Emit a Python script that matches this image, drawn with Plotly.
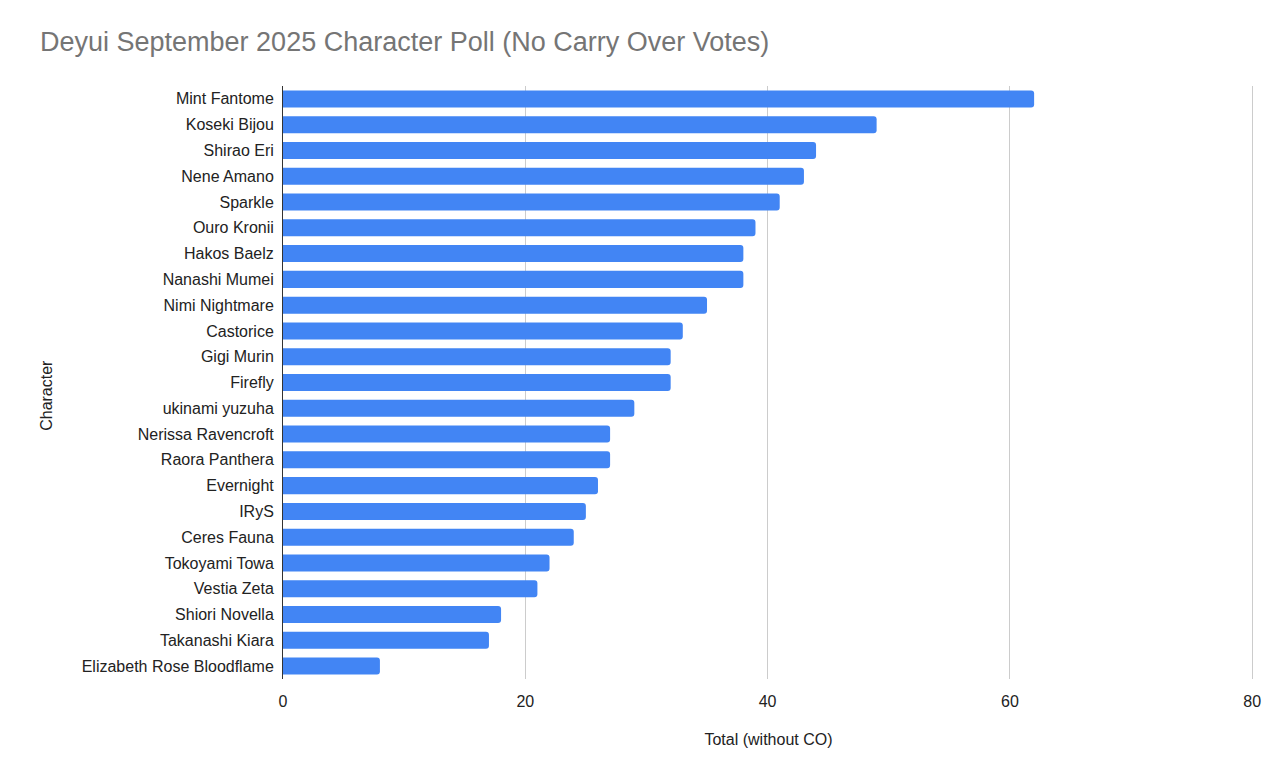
import plotly.graph_objects as go

characters = [
    "Mint Fantome", "Koseki Bijou", "Shirao Eri", "Nene Amano", "Sparkle",
    "Ouro Kronii", "Hakos Baelz", "Nanashi Mumei", "Nimi Nightmare", "Castorice",
    "Gigi Murin", "Firefly", "ukinami yuzuha", "Nerissa Ravencroft", "Raora Panthera",
    "Evernight", "IRyS", "Ceres Fauna", "Tokoyami Towa", "Vestia Zeta",
    "Shiori Novella", "Takanashi Kiara", "Elizabeth Rose Bloodflame",
]
votes = [62, 49, 44, 43, 41, 39, 38, 38, 35, 33, 32, 32, 29, 27, 27, 26, 25, 24, 22, 21, 18, 17, 8]
x_ticks = [0, 20, 40, 60, 80]

fig = go.Figure()
fig.add_trace(go.Bar(
    x=votes,
    y=characters,
    orientation="h",
    marker=dict(color="#4285F4", cornerradius=3, line=dict(width=0)),
    hovertemplate="%{y}: %{x}<extra></extra>",
))

# page has an 8px body margin, so offsets are shifted accordingly
fig.update_layout(
    width=1286,
    height=780,
    autosize=False,
    template="simple_white",
    paper_bgcolor="white",
    plot_bgcolor="white",
    font=dict(family="Liberation Sans, Arial, sans-serif", size=16, color="#222222"),
    title=dict(
        text="Deyui September 2025 Character Poll (No Carry Over Votes)",
        x=32 / 1286, xanchor="left",
        y=1 - 34 / 780, yanchor="middle",
        font=dict(size=27, color="#757575"),
    ),
    margin=dict(l=275, r=40, t=78, b=109),
    bargap=0.34,
    showlegend=False,
)

# y axis title sits a little below the plot centre, like the sheets chart
fig.add_annotation(
    text="Character",
    xref="paper", yref="paper",
    x=-0.2432, y=0.479,
    xanchor="center", yanchor="middle",
    textangle=-90,
    showarrow=False,
    font=dict(size=16, color="#222222"),
)

fig.update_xaxes(
    range=[0, 80.15],
    tickvals=x_ticks,
    showgrid=True,
    gridcolor="#cccccc",
    gridwidth=1,
    showline=False,
    ticks="outside",
    ticklen=8,
    tickcolor="rgba(0,0,0,0)",
    zeroline=False,
    title=dict(text="Total (without CO)", standoff=24, font=dict(size=16, color="#222222")),
    tickfont=dict(size=16, color="#222222"),
)
fig.update_yaxes(
    categoryorder="array",
    categoryarray=characters[::-1],
    showline=True,
    linecolor="#333333",
    linewidth=1,
    ticks="outside",
    ticklen=5,
    tickcolor="rgba(0,0,0,0)",
    showgrid=False,
    tickfont=dict(size=16, color="#222222"),
)

fig.write_html("out.html")
